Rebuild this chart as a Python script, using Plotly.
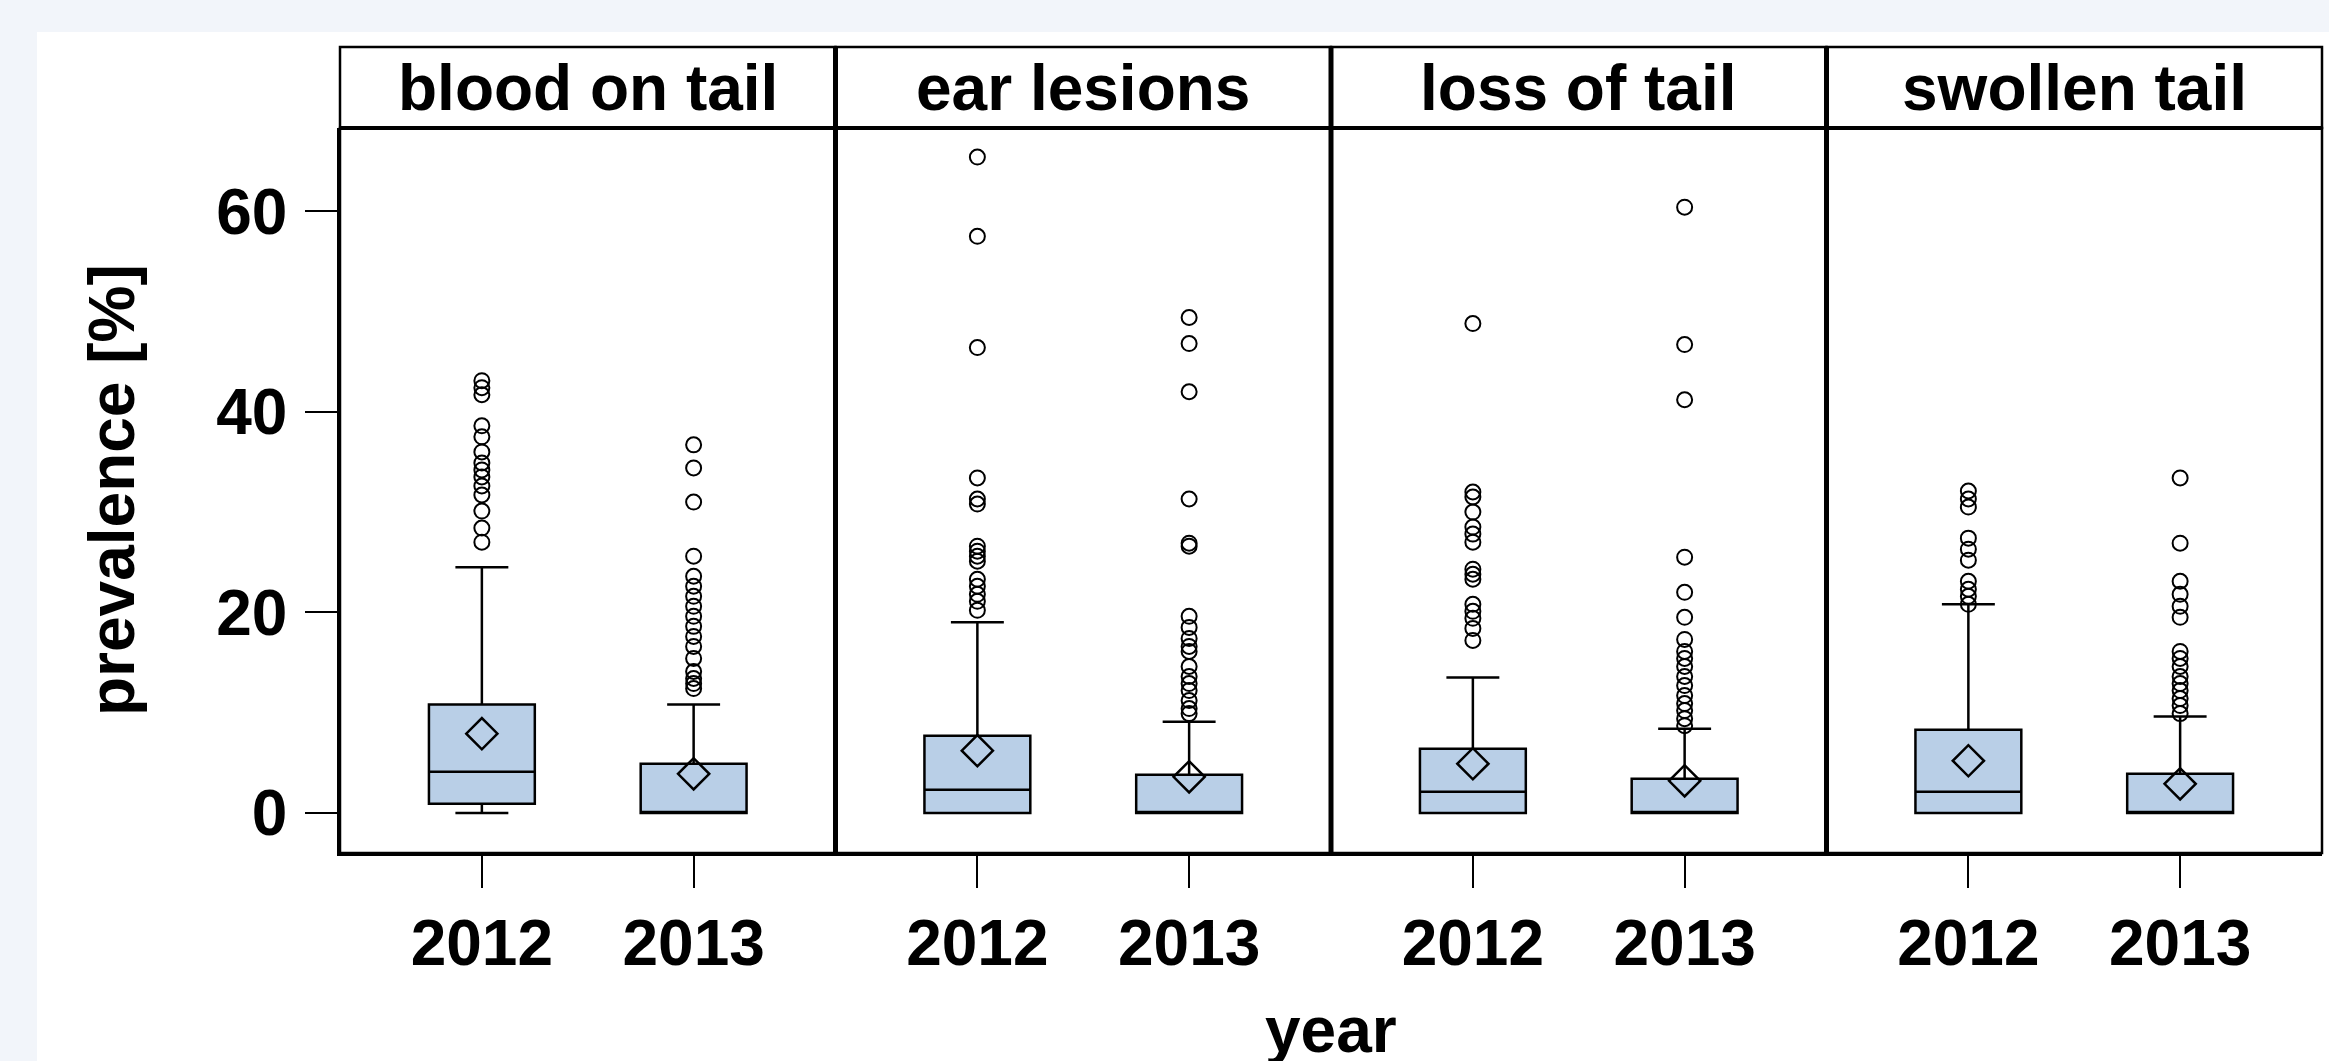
import plotly.graph_objects as go

# ---------------- data ----------------
panels = ["blood on tail", "ear lesions", "loss of tail", "swollen tail"]
years = ["2012", "2013"]

# box statistics per panel: [2012, 2013]
q1 = {"blood on tail": [0.9, 0.0], "ear lesions": [0.0, 0.0],
      "loss of tail": [0.0, 0.0], "swollen tail": [0.0, 0.0]}
median = {"blood on tail": [4.1, 0.0], "ear lesions": [2.3, 0.0],
          "loss of tail": [2.1, 0.0], "swollen tail": [2.1, 0.0]}
q3 = {"blood on tail": [10.8, 4.9], "ear lesions": [7.7, 3.8],
      "loss of tail": [6.4, 3.4], "swollen tail": [8.3, 3.9]}
lower_whisker = {"blood on tail": [0.0, 0.0], "ear lesions": [0.0, 0.0],
                 "loss of tail": [0.0, 0.0], "swollen tail": [0.0, 0.0]}
upper_whisker = {"blood on tail": [24.5, 10.8], "ear lesions": [19.0, 9.1],
                 "loss of tail": [13.5, 8.4], "swollen tail": [20.8, 9.6]}
mean = {"blood on tail": [7.9, 3.9], "ear lesions": [6.2, 3.6],
        "loss of tail": [4.9, 3.2], "swollen tail": [5.2, 2.9]}

outliers_blood_2012 = [27.0, 28.4, 30.1, 31.7, 32.6, 33.5, 34.2, 34.9, 36.0, 37.5, 38.6, 41.7, 42.4, 43.1]
outliers_blood_2013 = [12.4, 12.9, 13.4, 14.1, 15.4, 16.6, 17.6, 18.6, 19.6, 20.6, 21.6, 22.6, 23.6, 25.6,
                       31.0, 34.4, 36.7]
outliers_ear_2012 = [20.2, 21.1, 21.8, 22.6, 23.3, 25.1, 25.6, 26.1, 26.6, 30.8, 31.3, 33.4, 46.4, 57.5, 65.4]
outliers_ear_2013 = [9.9, 10.4, 11.2, 12.2, 12.9, 13.6, 14.6, 16.1, 16.6, 17.4, 18.5, 19.6, 26.6, 26.9,
                     31.3, 42.0, 46.8, 49.4]
outliers_loss_2012 = [17.2, 18.4, 19.4, 20.1, 20.8, 23.3, 23.8, 24.3, 27.0, 27.8, 28.5, 30.0, 31.5, 32.0, 48.8]
outliers_loss_2013 = [8.7, 9.4, 10.2, 10.9, 11.7, 12.7, 13.6, 14.6, 15.4, 16.1, 17.3, 19.5, 22.0, 25.5,
                      41.2, 46.7, 60.4]
outliers_swollen_2012 = [20.8, 21.6, 22.3, 23.1, 25.2, 26.3, 27.4, 30.5, 31.3, 32.1]
outliers_swollen_2013 = [9.9, 10.7, 11.4, 12.2, 12.9, 13.6, 14.6, 15.4, 16.1, 19.5, 20.6, 21.8, 23.1,
                         26.9, 33.4]

outliers = {
    "blood on tail": [outliers_blood_2012, outliers_blood_2013],
    "ear lesions": [outliers_ear_2012, outliers_ear_2013],
    "loss of tail": [outliers_loss_2012, outliers_loss_2013],
    "swollen tail": [outliers_swollen_2012, outliers_swollen_2013],
}

y_ticks = [0, 20, 40, 60]

# ---------------- figure ----------------
W, H = 2329, 1061
L, R, T, B = 340, 7, 128, 208
FONT = "Liberation Sans, Arial, Helvetica, sans-serif"
BOXFILL = "#b9cfe7"

fig = go.Figure()
pos = [1, 2]
for i, p in enumerate(panels):
    xa = "x" if i == 0 else f"x{i+1}"
    fig.add_trace(go.Box(
        x=pos, q1=q1[p], median=median[p], q3=q3[p],
        lowerfence=lower_whisker[p], upperfence=upper_whisker[p],
        xaxis=xa, yaxis="y", width=0.5, whiskerwidth=0.5,
        fillcolor=BOXFILL, line=dict(color="black", width=2.5),
        boxpoints=False, showlegend=False, hoverinfo="skip",
    ))
    for j in range(2):
        vals = outliers[p][j]
        fig.add_trace(go.Scatter(
            x=[pos[j]] * len(vals), y=vals, mode="markers",
            xaxis=xa, yaxis="y", showlegend=False, hoverinfo="skip",
            marker=dict(symbol="circle-open", size=15, color="black",
                        line=dict(width=2, color="black")),
        ))
    fig.add_trace(go.Scatter(
        x=pos, y=mean[p], mode="markers", xaxis=xa, yaxis="y",
        showlegend=False, hoverinfo="skip",
        marker=dict(symbol="diamond-open", size=24, color="black",
                    line=dict(width=2.5, color="black")),
    ))

tickfont = dict(family=FONT, size=64, color="black", weight="bold")
layout = dict(
    width=W, height=H,
    margin=dict(l=L, r=R, t=T, b=B, pad=0),
    paper_bgcolor="#f2f5fa",
    plot_bgcolor="rgba(0,0,0,0)",
    showlegend=False,
    yaxis=dict(range=[-4.0, 68.3], tickvals=y_ticks, ticktext=[str(v) for v in y_ticks],
               ticks="outside", ticklen=32, tickwidth=2, tickcolor="black",
               ticklabelstandoff=5,
               showline=True, linecolor="black", linewidth=2.5,
               showgrid=False, zeroline=False, tickfont=tickfont, domain=[0, 1]),
)
for i in range(4):
    key = "xaxis" if i == 0 else f"xaxis{i+1}"
    layout[key] = dict(domain=[i * 0.25, (i + 1) * 0.25], range=[0.33, 2.67],
                       tickvals=pos, ticktext=years, anchor="y",
                       ticks="outside", ticklen=32, tickwidth=2, tickcolor="black",
                       showline=True, linecolor="black", linewidth=2.5,
                       showgrid=False, zeroline=False, tickfont=tickfont)
fig.update_layout(**layout)

pw = W - L - R
ph = H - T - B
def px2x(px):
    return (px - L) / pw
def py2y(py):
    return (H - B - py) / ph

shapes = []
# white panel background
shapes.append(dict(type="rect", xref="paper", yref="paper", layer="below",
                   x0=px2x(37), x1=px2x(W + 5), y0=py2y(H + 5), y1=py2y(32),
                   fillcolor="white", line=dict(width=0)))
strip_top = py2y(47)
# strips
for i in range(4):
    shapes.append(dict(type="rect", xref="paper", yref="paper",
                       x0=i * 0.25, x1=(i + 1) * 0.25, y0=1.0, y1=strip_top,
                       fillcolor="white", line=dict(color="black", width=2.5), layer="below"))
# frame
shapes.append(dict(type="rect", xref="paper", yref="paper", x0=0, x1=1, y0=0, y1=1,
                   line=dict(color="black", width=2.5)))
# thick separators
for i in range(1, 4):
    shapes.append(dict(type="line", xref="paper", yref="paper", x0=i * 0.25, x1=i * 0.25,
                       y0=0, y1=strip_top, line=dict(color="black", width=5)))
shapes.append(dict(type="line", xref="paper", yref="paper", x0=0, x1=1, y0=1, y1=1,
                   line=dict(color="black", width=4)))

annotations = []
for i, p in enumerate(panels):
    annotations.append(dict(text=p, xref="paper", yref="paper", x=(i + 0.5) * 0.25,
                            y=(1.0 + strip_top) / 2, xanchor="center", yanchor="middle",
                            showarrow=False, font=tickfont))
annotations.append(dict(text="year", xref="paper", yref="paper", x=0.5, y=py2y(1030),
                        xanchor="center", yanchor="middle", showarrow=False, font=tickfont))
annotations.append(dict(text="prevalence [%]", xref="paper", yref="paper", x=px2x(112),
                        y=py2y(490), xanchor="center", yanchor="middle", textangle=-90,
                        showarrow=False, font=tickfont))
fig.update_layout(shapes=shapes, annotations=annotations)

fig.write_html("out.html", config={"displayModeBar": False},
               post_script="document.body.style.margin='0px';document.body.style.overflow='hidden';")
